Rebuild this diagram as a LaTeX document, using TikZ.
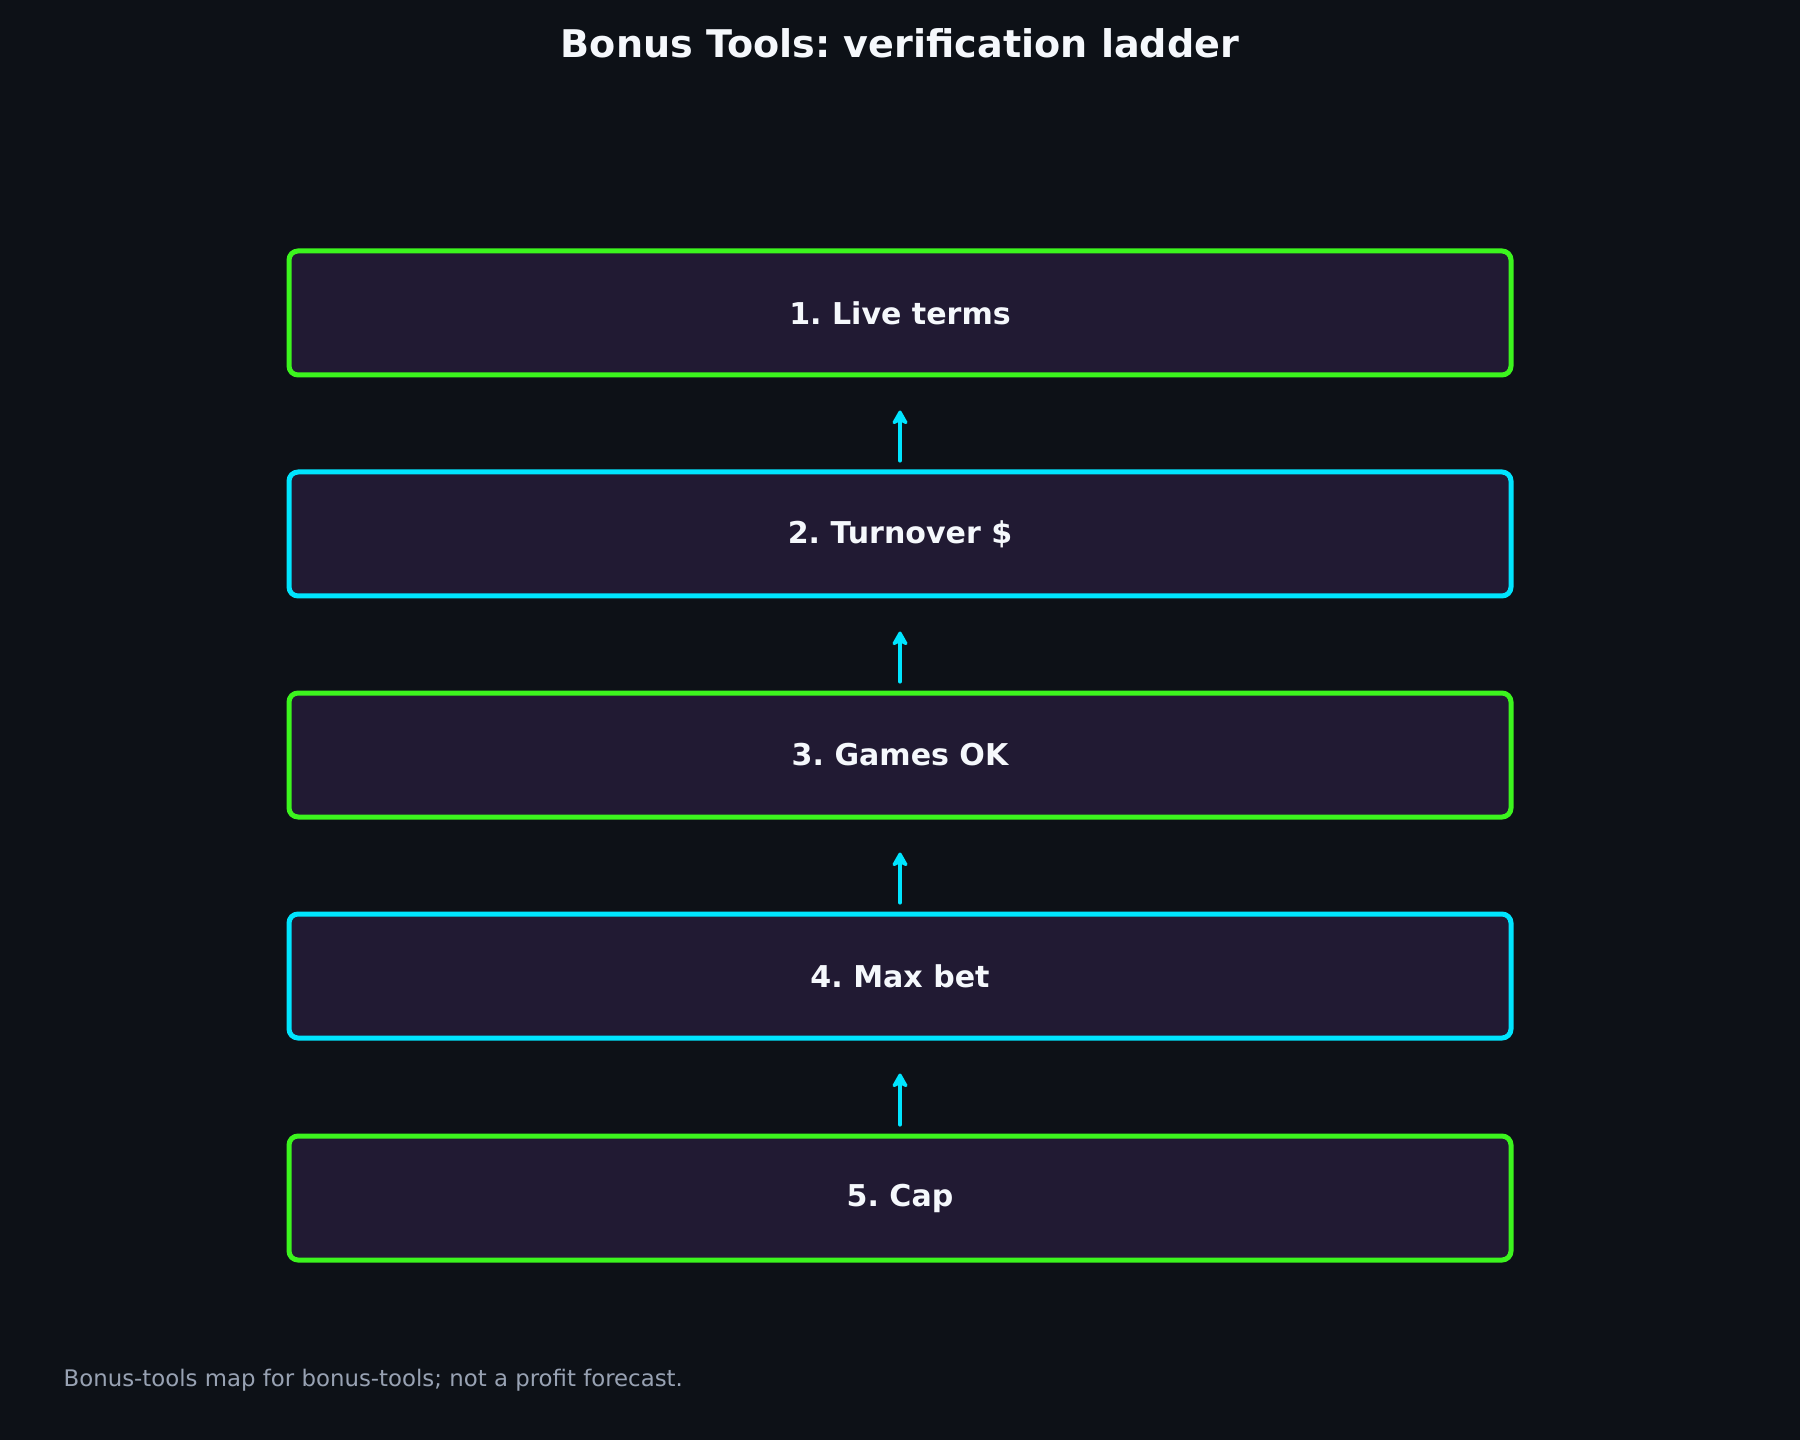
\documentclass[tikz,border=0pt]{standalone}
\usepackage{fontspec}
\setmainfont{DejaVu Sans}
\usetikzlibrary{arrows.meta}
\frenchspacing
\definecolor{bgc}{HTML}{0D1117}
\definecolor{boxfill}{HTML}{211A33}
\definecolor{neongreen}{HTML}{3CF51E}
\definecolor{neoncyan}{HTML}{00E5FF}
\definecolor{titlec}{HTML}{F5F8FC}
\definecolor{footc}{HTML}{98A2B3}
\tikzset{
  stepbox/.style={draw, line width=0.5mm, fill=boxfill, rounded corners=0.9mm,
    minimum width=122.2mm, minimum height=12.4mm, inner sep=0pt,
    text=titlec, font=\fontsize{8.55pt}{10pt}\selectfont\bfseries},
  gbox/.style={stepbox, draw=neongreen},
  cbox/.style={stepbox, draw=neoncyan},
  uparrow/.style={draw=neoncyan, line width=0.42mm, line cap=round,
    -{Stealth[length=1.7mm, width=1.9mm, inset=0.45mm, round]},
    shorten <=0.9mm, shorten >=3.3mm},
}
\begin{document}
\begin{tikzpicture}[x=0.1mm,y=-0.1mm]
\fill[bgc] (0,0) rectangle (1800,1440);
\useasboundingbox (0,0) rectangle (1800,1440);
\node[text=titlec, font=\fontsize{10.85pt}{12pt}\selectfont\bfseries] (title) at (900,43) {Bonus Tools: verification ladder};
\node[gbox] (b1) at (900,313) {1. Live terms};
\node[cbox] (b2) at (900,534) {2. Turnover \$};
\node[gbox] (b3) at (900,755) {3. Games OK};
\node[cbox] (b4) at (900,976) {4. Max bet};
\node[gbox] (b5) at (900,1198) {5. Cap};
\draw[uparrow] (b2.north) -- (b1.south);
\draw[uparrow] (b3.north) -- (b2.south);
\draw[uparrow] (b4.north) -- (b3.south);
\draw[uparrow] (b5.north) -- (b4.south);
\node[anchor=base west, inner sep=0pt, text=footc, font=\fontsize{6.5pt}{7.5pt}\selectfont] (foot) at (63,1386) {Bonus-tools map for bonus-tools; not a profit forecast.};
\end{tikzpicture}
\end{document}
